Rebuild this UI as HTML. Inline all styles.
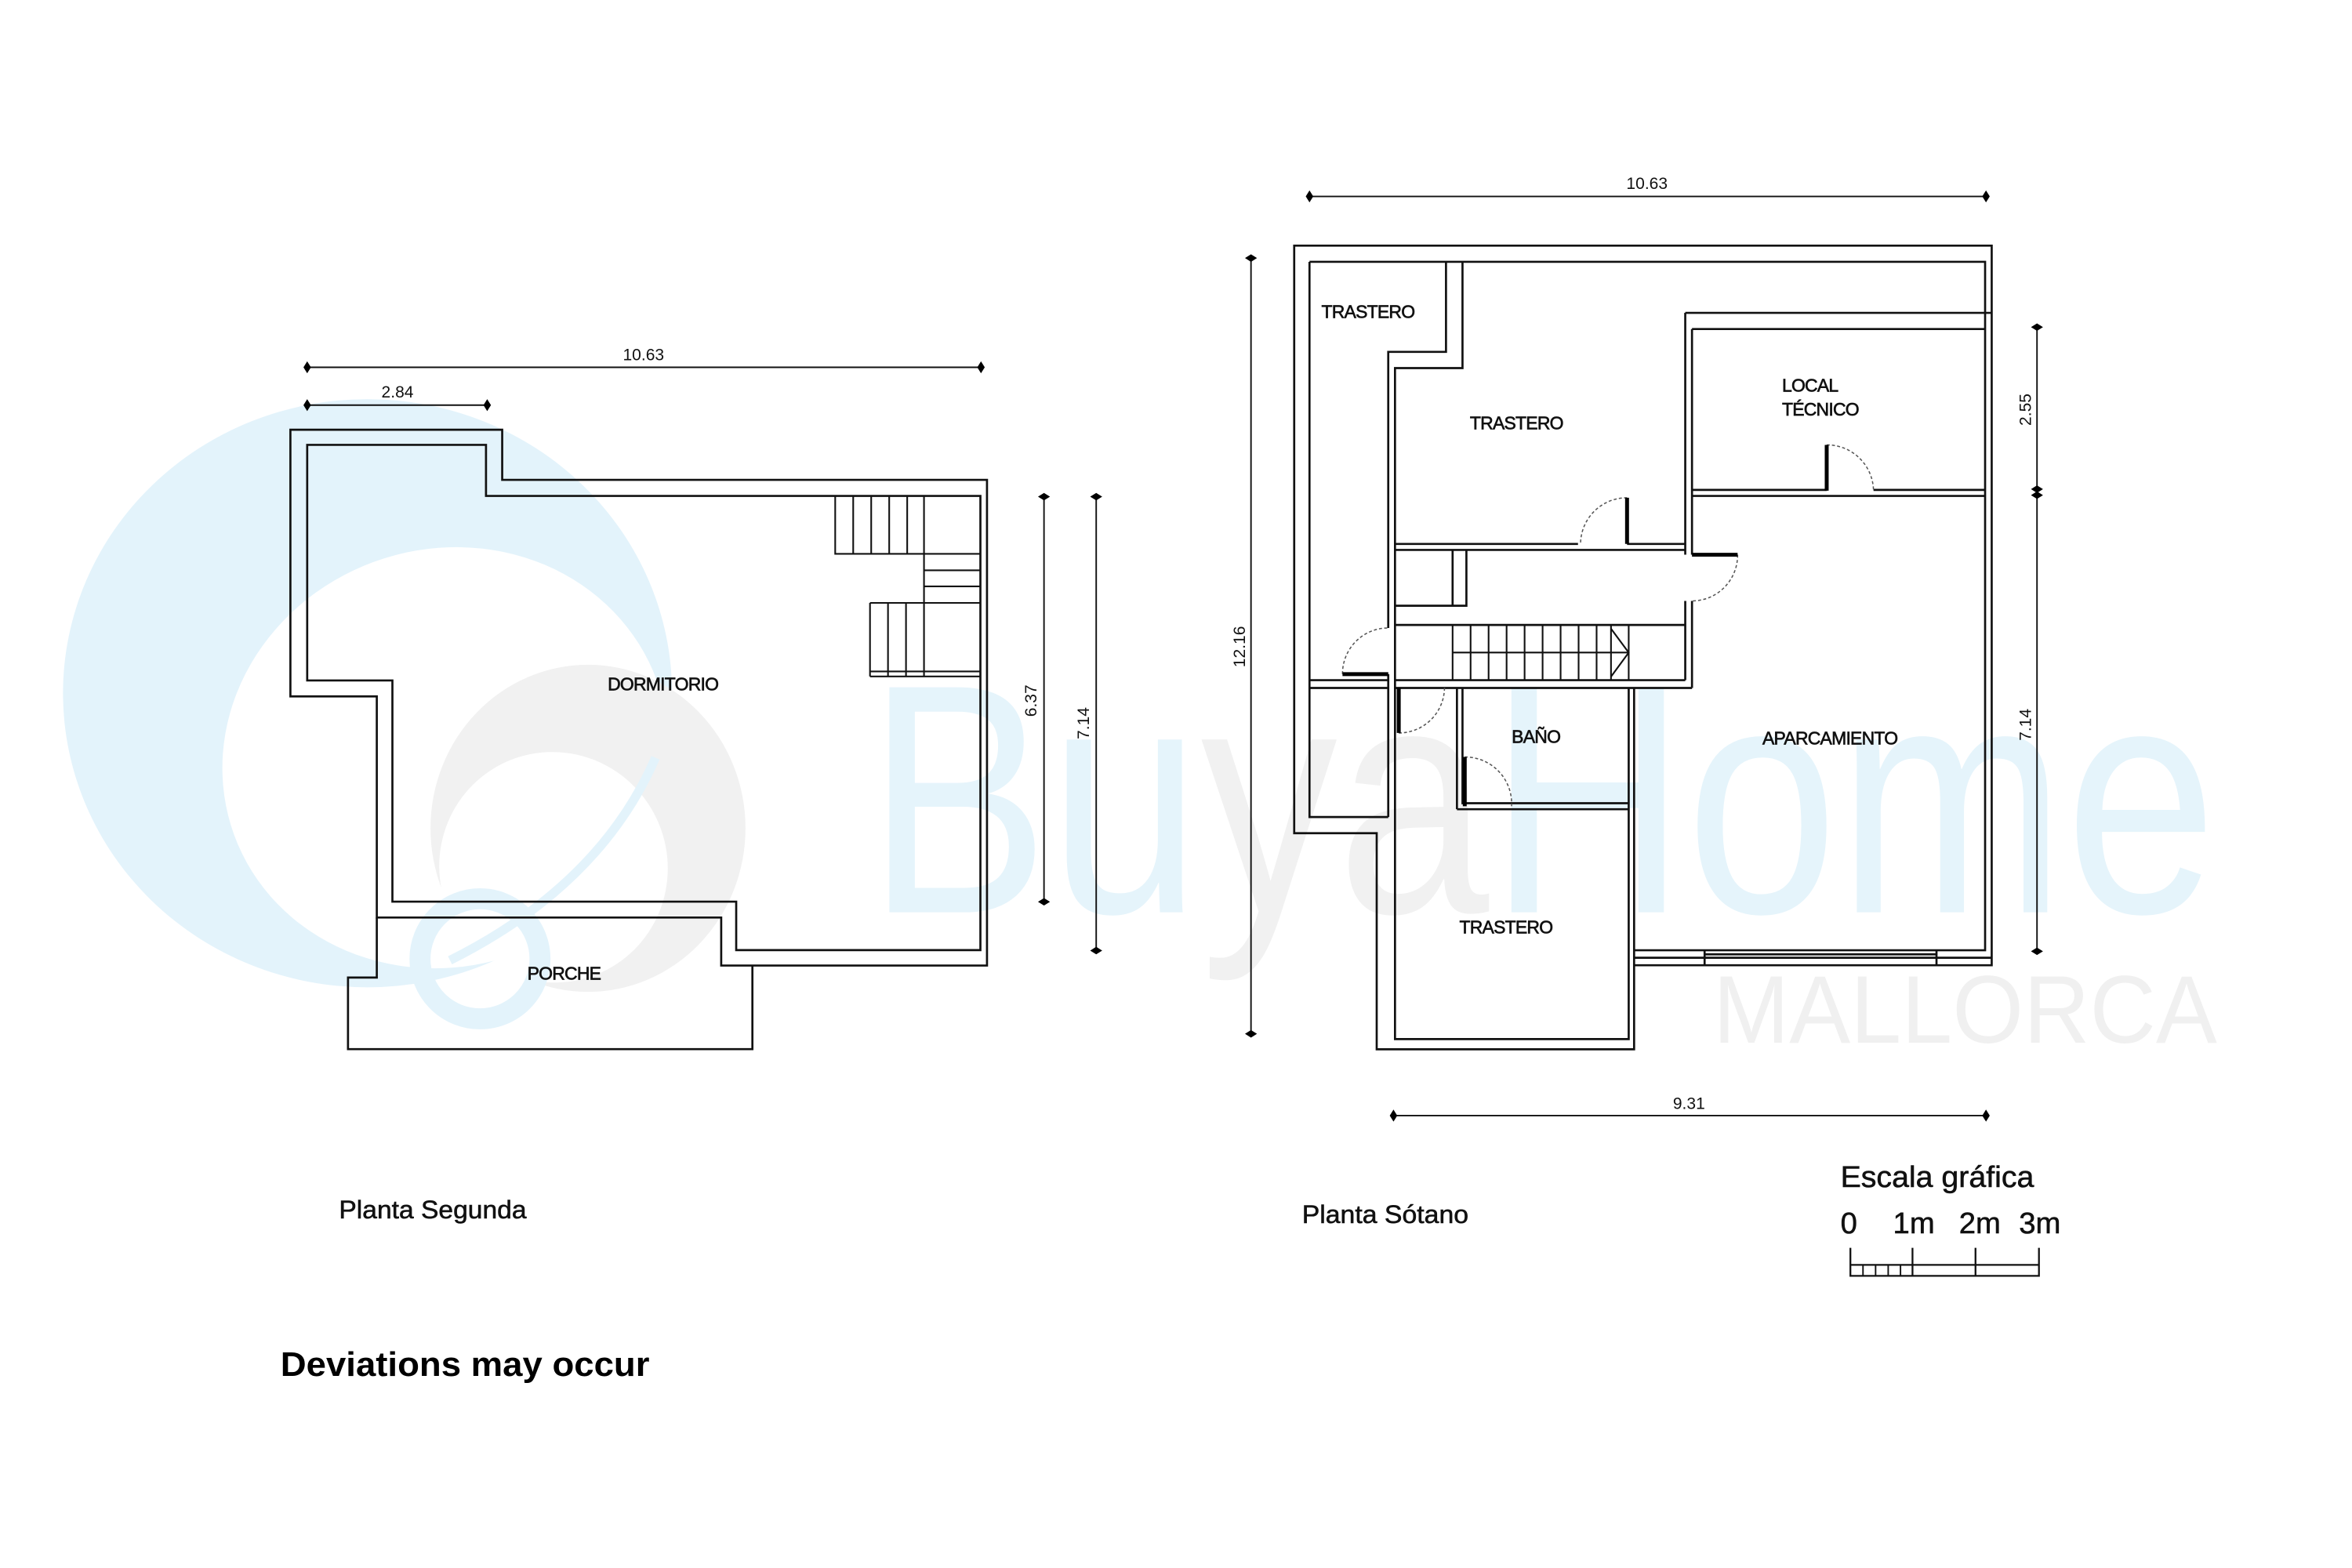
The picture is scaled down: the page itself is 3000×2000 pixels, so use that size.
<!DOCTYPE html>
<html><head><meta charset="utf-8">
<style>html,body{margin:0;padding:0;background:#fff;}svg{display:block;}</style>
</head><body>
<svg width="3000" height="2000" viewBox="0 0 1568 1045" preserveAspectRatio="none" xmlns="http://www.w3.org/2000/svg" font-family="'Liberation Sans', sans-serif">
<defs>
<mask id="crescent">
<rect x="0" y="0" width="1568" height="1045" fill="#fff"/>
<ellipse cx="297" cy="505" rx="150" ry="139" fill="#000" transform="rotate(-20 297 505)"/>
</mask>
<mask id="gring">
<rect x="0" y="0" width="1568" height="1045" fill="#fff"/>
<ellipse cx="369" cy="578" rx="76" ry="77" fill="#000" transform="rotate(-25 369 578)"/>
</mask>
</defs>
<!-- watermark -->
<ellipse cx="245" cy="462" rx="203" ry="196" fill="#e3f3fb" mask="url(#crescent)"/>
<ellipse cx="392" cy="552" rx="105" ry="109" fill="#f1f1f1" mask="url(#gring)"/>
<ellipse cx="320" cy="639" rx="40" ry="40" fill="none" stroke="#e3f3fb" stroke-width="14"/>
<path d="M437 505 Q400 590 300 640" fill="none" stroke="#e3f3fb" stroke-width="6"/>
<text x="578" y="608" font-size="218" fill="#e5f4fb" textLength="900" lengthAdjust="spacingAndGlyphs">Bu<tspan fill="#f1f1f1">ya</tspan>Home</text>
<text x="1142" y="695" font-size="64" fill="#f0f0f0" textLength="336" lengthAdjust="spacingAndGlyphs">MALLORCA</text>

<g fill="none" stroke="#111" stroke-width="1.4">
<!-- LEFT PLAN -->
<path d="M193.6 286.4 H334.8 V319.8 H658 V643.5 H480.8 V611.5 H251.2 V464.1 H193.6 Z"/>
<path d="M204.8 296.5 H324 V330.5 H653.6 V633.2 H490.8 V600.9 H261.6 V453.5 H204.8 Z"/>
<path d="M251.2 611.5 V651.5 H232 V699.2 H501.6 V643.5"/>
<g stroke-width="1.1">
<path d="M556.8 330.5 V369.1 H616 M568.8 330.5 V369.1 M580.8 330.5 V369.1 M592.8 330.5 V369.1 M604.8 330.5 V369.1 M616 330.5 V450.8"/>
<path d="M616 369.1 H653.6 M616 380.1 H653.6 M616 390.8 H653.6 M616 401.8 H653.6"/>
<path d="M580 401.8 H616 M580 401.8 V450.8 M592 401.8 V450.8 M604 401.8 V450.8 M580 447.5 H653.6 M580 450.8 H653.6"/>
</g>
<g stroke-width="1">
<path d="M204.8 244.8 H654 M204.8 270 H324.8 M696 331 V601 M730.8 331 V633.5"/>
</g>

<!-- RIGHT PLAN -->
<path d="M862.8 163.7 H1327.8 V643.3 H1089.4 V699.3 H917.8 V555.3 H862.8 Z"/>
<path d="M873 174.5 H1323.4 V633.3 H1089.4"/>
<path d="M873 174.5 V544.5 H925.5"/>
<path d="M964 174.5 V234.5 H925.5 V418.5 M925.5 449.3 V544.5"/>
<path d="M975 174.5 V245.3 H930 V692.5 H1085.8 V458.5"/>
<path d="M1089.4 458.5 V643.3"/>
<path d="M873 453.3 H925.5 M873 458.5 H925.5 M930 458.5 H1128 M930 453.3 H1123.5"/>
<path d="M1123.5 208.5 H1327.8 M1128 219.3 H1323.4"/>
<path d="M1123.5 208.5 V369.7 M1123.5 400.5 V453.3 M1128 219.3 V369.7 M1128 400.5 V458.5"/>
<path d="M1128 326.5 H1217.8 M1249 326.5 H1323.4 M1128 330.5 H1323.4"/>
<path d="M930 362.5 H1052 M1084.7 362.5 H1123.5 M930 366.5 H1123.5"/>
<path d="M968.4 366.5 V403.7 M977.6 366.5 V403.7 H930"/>
<path d="M930 416.5 H1123.5"/>
<g stroke-width="1.1">
<path d="M968.4 416.5 V453.3 M980.4 416.5 V453.3 M992.4 416.5 V453.3 M1004.4 416.5 V453.3 M1016.4 416.5 V453.3 M1028.4 416.5 V453.3 M1040.4 416.5 V453.3 M1052.4 416.5 V453.3 M1064.4 416.5 V453.3 M1074 416.5 V453.3 M1085.8 416.5 V453.3"/>
<path d="M968.4 434.9 H1085.8 M1074 419 L1085.8 434.9 L1074 451"/>
</g>
<path d="M971.3 458.5 V539.3 M975 458.5 V535.3 H1085.8 M971.3 539.3 H1085.8"/>
<path d="M1089.4 638.3 H1327.8 M1136.4 633.3 V643.3 M1291 633.3 V643.3 M1136.4 636 H1291"/>
<g stroke-width="1">
<path d="M873 130.9 H1324 M834 172 V689 M1358 218 V634 M929 743.5 H1324"/>
</g>
<g stroke-width="0.8" stroke-dasharray="2 1.5" stroke="#555">
<path d="M1084.7 331.7 A31 31 0 0 0 1053.7 362.5"/>
<path d="M1217.8 296.5 A31 31 0 0 1 1249 327"/>
<path d="M1158.4 369.7 A30.5 30.5 0 0 1 1128 400.5"/>
<path d="M895 449.3 A30.5 30.5 0 0 1 925.5 418.5"/>
<path d="M932.5 488.5 A30.5 30.5 0 0 0 963 458"/>
<path d="M976.5 504.5 A31 31 0 0 1 1007.7 537.3"/>
</g>
</g>
<g stroke="#000" stroke-width="2.6">
<path d="M1084.7 331.7 V362.5"/>
<path d="M1217.8 296.5 V327"/>
<path d="M1128 369.7 H1158.4"/>
<path d="M895 449.3 H925.5"/>
<path d="M932.5 458.5 V488.5"/>
<path d="M976.5 504.5 V537.3"/>
</g>
<g fill="#000">
<path d="M204.8 240.8 L207.3 244.8 L204.8 248.8 L202.3 244.8Z"/>
<path d="M654 240.8 L656.5 244.8 L654 248.8 L651.5 244.8Z"/>
<path d="M204.8 266 L207.3 270 L204.8 274 L202.3 270Z"/>
<path d="M324.8 266 L327.3 270 L324.8 274 L322.3 270Z"/>
<path d="M692 331 L696 328.5 L700 331 L696 333.5Z"/>
<path d="M692 601 L696 598.5 L700 601 L696 603.5Z"/>
<path d="M726.8 331 L730.8 328.5 L734.8 331 L730.8 333.5Z"/>
<path d="M726.8 633.5 L730.8 631 L734.8 633.5 L730.8 636Z"/>
<path d="M873 126.9 L875.5 130.9 L873 134.9 L870.5 130.9Z"/>
<path d="M1324 126.9 L1326.5 130.9 L1324 134.9 L1321.5 130.9Z"/>
<path d="M830 172 L834 169.5 L838 172 L834 174.5Z"/>
<path d="M830 689 L834 686.5 L838 689 L834 691.5Z"/>
<path d="M1354 218 L1358 215.5 L1362 218 L1358 220.5Z"/>
<path d="M1354 326 L1358 323.5 L1362 326 L1358 328.5Z"/>
<path d="M1354 330 L1358 327.5 L1362 330 L1358 332.5Z"/>
<path d="M1354 634 L1358 631.5 L1362 634 L1358 636.5Z"/>
<path d="M929 739.5 L931.5 743.5 L929 747.5 L926.5 743.5Z"/>
<path d="M1324 739.5 L1326.5 743.5 L1324 747.5 L1321.5 743.5Z"/>
</g>
<g font-size="11" fill="#111" text-anchor="middle">
<text x="429" y="240">10.63</text>
<text x="265" y="265">2.84</text>
<text x="0" y="0" transform="translate(691 467) rotate(-90)">6.37</text>
<text x="0" y="0" transform="translate(726 482) rotate(-90)">7.14</text>
<text x="1098" y="126">10.63</text>
<text x="1126" y="739">9.31</text>
<text x="0" y="0" transform="translate(830 431) rotate(-90)">12.16</text>
<text x="0" y="0" transform="translate(1354 273) rotate(-90)">2.55</text>
<text x="0" y="0" transform="translate(1354 483) rotate(-90)">7.14</text>
</g>
<g font-size="12" fill="#111" stroke="#111" stroke-width="0.35" text-anchor="middle" letter-spacing="-0.4">
<text x="442" y="460">DORMITORIO</text>
<text x="376" y="653">PORCHE</text>
<text x="912" y="212">TRASTERO</text>
<text x="1011" y="286">TRASTERO</text>
<text x="1188" y="261" text-anchor="start">LOCAL</text>
<text x="1188" y="277" text-anchor="start">TÉCNICO</text>
<text x="1024" y="495">BAÑO</text>
<text x="1220" y="496">APARCAMIENTO</text>
<text x="1004" y="622">TRASTERO</text>
</g>
<g fill="#111" stroke="#111" stroke-width="0.3">
<text x="226" y="812" font-size="17" textLength="125" lengthAdjust="spacingAndGlyphs">Planta Segunda</text>
<text x="868" y="815" font-size="17" textLength="111" lengthAdjust="spacingAndGlyphs">Planta Sótano</text>
<text x="1227" y="791" font-size="20" textLength="129" lengthAdjust="spacingAndGlyphs">Escala gráfica</text>
<text x="1227" y="822" font-size="20">0</text>
<text x="1262" y="822" font-size="20">1m</text>
<text x="1306" y="822" font-size="20">2m</text>
<text x="1346" y="822" font-size="20">3m</text>
</g>
<text x="187" y="917" font-size="23" font-weight="bold" fill="#000" textLength="246" lengthAdjust="spacingAndGlyphs">Deviations may occur</text>
<g fill="none" stroke="#111" stroke-width="1.2">
<path d="M1233.6 831.6 V850.3 H1359.3 V831.6 M1275 831.6 V850.3 M1317 831.6 V850.3 M1233.6 843 H1359.3"/>
<path d="M1242 843 V850.3 M1250.4 843 V850.3 M1258.8 843 V850.3 M1267 843 V850.3" stroke-width="1"/>
</g>
</svg>
</body></html>
